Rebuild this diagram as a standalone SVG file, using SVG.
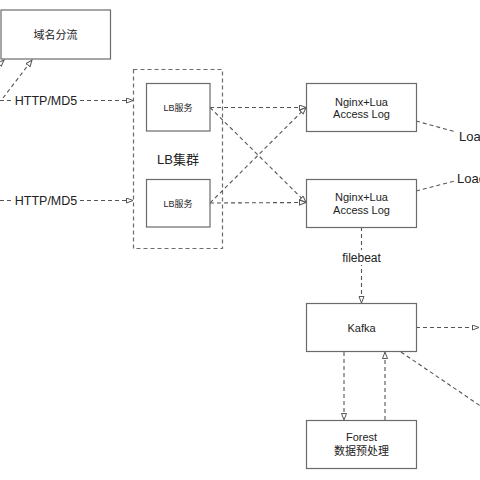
<svg xmlns="http://www.w3.org/2000/svg" width="480" height="480" viewBox="0 0 480 480">
<style>
.box{fill:#fff;stroke:#6b6b6b;stroke-width:1.2}
.cl{fill:none;stroke:#6b6b6b;stroke-width:1.2;stroke-dasharray:4 3}
.ln{fill:none;stroke:#555;stroke-width:1.1;stroke-dasharray:4 3}
.arr{marker-end:url(#ah)}
.t{font-family:"Liberation Sans","Noto Sans CJK SC",sans-serif;fill:#222;text-anchor:middle}
.lbl{fill:#fff}
</style>
<defs>
<marker id="ah" markerWidth="9" markerHeight="8" refX="7" refY="3" orient="auto" markerUnits="userSpaceOnUse">
<path d="M0.5,0.5 L7,3 L0.5,5.5 Z" fill="#fff" stroke="#555" stroke-width="1"/>
</marker>
</defs>
<rect width="480" height="480" fill="#fff"/>
<g id="cluster">
<rect class="cl" x="133.5" y="69.5" width="89" height="179"/>
<text class="t" x="178" y="163.5" font-size="13">LB集群</text>
</g>
<g id="connectors">
<line class="ln arr" x1="-12" y1="76" x2="4" y2="60"/>
<line class="ln arr" x1="3" y1="98" x2="32" y2="60"/>
<line class="ln" x1="0" y1="100.5" x2="13" y2="100.5"/>
<line class="ln arr" x1="80" y1="100.5" x2="133" y2="100.5"/>
<line class="ln" x1="0" y1="200.5" x2="13" y2="200.5"/>
<line class="ln arr" x1="80" y1="200.5" x2="133" y2="200.5"/>
<line class="ln arr" x1="210" y1="107.5" x2="306" y2="107.5"/>
<line class="ln arr" x1="210" y1="107.5" x2="306" y2="202.5"/>
<line class="ln arr" x1="210" y1="203" x2="306" y2="202.5"/>
<line class="ln arr" x1="210" y1="203" x2="306" y2="107.5"/>
<line class="ln" x1="416" y1="121" x2="456" y2="132"/>
<line class="ln" x1="416" y1="191" x2="455" y2="181"/>
<line class="ln arr" x1="361.5" y1="227" x2="361.5" y2="303"/>
<line class="ln arr" x1="416" y1="327.5" x2="479" y2="327.5"/>
<line class="ln" x1="401" y1="352" x2="482" y2="407"/>
<line class="ln arr" x1="344" y1="352" x2="344" y2="420"/>
<line class="ln arr" x1="385" y1="420" x2="385" y2="352"/>
<text class="t" x="46" y="105" font-size="12.5">HTTP/MD5</text>
<text class="t" x="46" y="205" font-size="12.5">HTTP/MD5</text>
<rect class="lbl" x="339" y="250" width="45" height="15"/>
<text class="t" x="361.5" y="262" font-size="12">filebeat</text>
<text class="t" x="459" y="141" font-size="13" text-anchor="start" style="text-anchor:start">Loa</text>
<text class="t" x="457" y="183" font-size="13" style="text-anchor:start">Load</text>
</g>
<g id="domain">
<rect class="box" x="1" y="10" width="109.5" height="49"/>
<text class="t" x="55.5" y="39" font-size="11">域名分流</text>
</g>
<g id="lb1">
<rect class="box" x="146.5" y="83.5" width="63.5" height="47.5"/>
<text class="t" x="178" y="110.5" font-size="9">LB服务</text>
</g>
<g id="lb2">
<rect class="box" x="146.5" y="179.5" width="63.5" height="47.5"/>
<text class="t" x="178" y="206.5" font-size="9">LB服务</text>
</g>
<g id="nginx1">
<rect class="box" x="306.5" y="83.5" width="110" height="48"/>
<text class="t" x="361.5" y="105.5" font-size="11">Nginx+Lua</text>
<text class="t" x="361.5" y="118" font-size="11">Access Log</text>
</g>
<g id="nginx2">
<rect class="box" x="306.5" y="179.5" width="110" height="48"/>
<text class="t" x="361.5" y="201" font-size="11">Nginx+Lua</text>
<text class="t" x="361.5" y="214" font-size="11">Access Log</text>
</g>
<g id="kafka">
<rect class="box" x="306.5" y="303.5" width="110" height="48"/>
<text class="t" x="361.5" y="331.5" font-size="11">Kafka</text>
</g>
<g id="forest">
<rect class="box" x="306.5" y="420.5" width="110" height="48"/>
<text class="t" x="361.5" y="440.5" font-size="11">Forest</text>
<text class="t" x="361.5" y="454.5" font-size="11">数据预处理</text>
</g>
</svg>
